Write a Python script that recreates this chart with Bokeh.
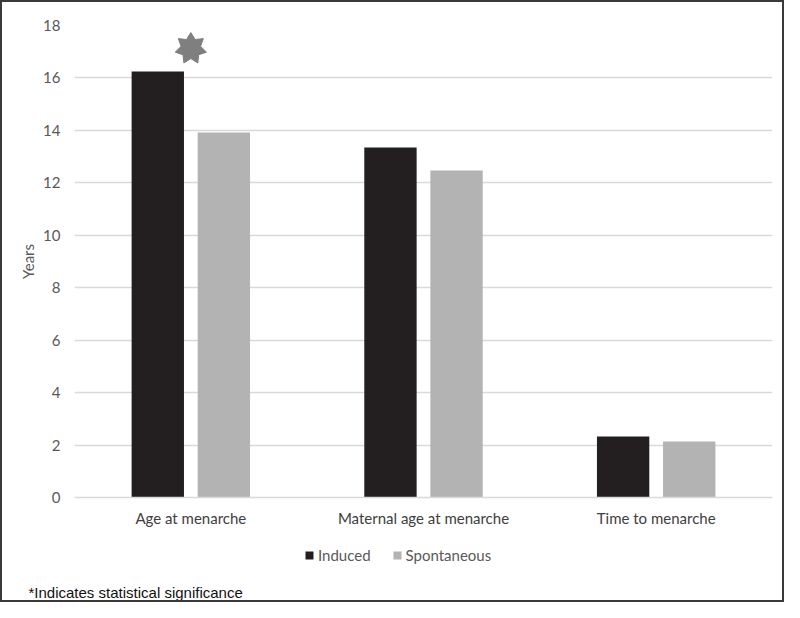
import numpy as np
from bokeh.plotting import figure
from bokeh.layouts import column
from bokeh.models import FactorRange, Range1d, ColumnDataSource, Legend, LegendItem, Label, FixedTicker
from bokeh.transform import dodge
from bokeh.embed import file_html
from bokeh.resources import INLINE

categories = ["Age at menarche", "Maternal age at menarche", "Time to menarche"]
induced = [16.25, 13.35, 2.33]
spontaneous = [13.92, 12.47, 2.14]
series_names = ["Induced", "Spontaneous"]
series_colors = ["#231f20", "#b3b3b3"]
y_ticks = [0, 2, 4, 6, 8, 10, 12, 14, 16, 18]
significant = ["Age at menarche"]
star_y = 17.12
footnote = "*Indicates statistical significance"

W = 780
H1, H2 = 532, 66
ML, MR, MT, MB = 72, 10, 23, 37

p = figure(x_range=FactorRange(factors=categories), y_range=Range1d(0, 18),
           width=W, height=H1, output_backend="svg", toolbar_location=None,
           min_border_left=ML, min_border_right=MR, min_border_top=MT, min_border_bottom=MB)
p.frame_align = False

src = ColumnDataSource(dict(cat=categories, induced=induced, spontaneous=spontaneous))
p.vbar(x=dodge("cat", -0.142, range=p.x_range), top="induced", width=0.225,
       source=src, fill_color=series_colors[0], line_color=None)
p.vbar(x=dodge("cat", 0.142, range=p.x_range), top="spontaneous", width=0.225,
       source=src, fill_color=series_colors[1], line_color=None)

# significance star (7-point) computed around the category center
px_per_x = (W - ML - MR) / len(categories)
px_per_y = (H1 - MT - MB) / 18.0
xs_all, ys_all = [], []
for c in significant:
    cx = categories.index(c) + 0.5
    n = 7
    ang = np.pi / 2 + np.arange(2 * n) * np.pi / n
    rad = np.where(np.arange(2 * n) % 2 == 0, 16.0, 10.0)
    xs_all.append(list(cx + rad * np.cos(ang) / px_per_x))
    ys_all.append(list(star_y + rad * np.sin(ang) / px_per_y))
p.patches(xs=xs_all, ys=ys_all, fill_color="#7f7f7f", line_color="#7f7f7f", line_width=1)

p.outline_line_color = None
p.xgrid.grid_line_color = None
p.ygrid.grid_line_color = "#d9d9d9"
p.ygrid.grid_line_width = 1.3
p.yaxis.ticker = FixedTicker(ticks=y_ticks)
p.yaxis.axis_line_color = None
p.yaxis.major_tick_line_color = None
p.yaxis.major_tick_out = 0
p.yaxis.major_tick_in = 0
p.yaxis.minor_tick_line_color = None
p.yaxis.major_label_text_font = "Lato"
p.yaxis.major_label_text_font_size = "15px"
p.yaxis.major_label_text_color = "#595959"
p.yaxis.major_label_standoff = 14
p.yaxis.axis_label = "Years"
p.yaxis.axis_label_text_font = "Lato"
p.yaxis.axis_label_text_font_size = "15px"
p.yaxis.axis_label_text_font_style = "normal"
p.yaxis.axis_label_text_color = "#595959"
p.yaxis.axis_label_standoff = 3

p.xaxis.axis_line_color = "#d9d9d9"
p.xaxis.axis_line_width = 1.3
p.xaxis.major_tick_line_color = None
p.xaxis.major_tick_out = 0
p.xaxis.major_tick_in = 0
p.xaxis.minor_tick_line_color = None
p.xaxis.major_label_text_font = "Lato"
p.xaxis.major_label_text_font_size = "15px"
p.xaxis.major_label_text_color = "#404040"
p.xaxis.major_label_standoff = 11

# bottom strip: legend + footnote
q = figure(x_range=Range1d(0, 1), y_range=Range1d(0, 1), width=W, height=H2,
           output_backend="svg", toolbar_location=None,
           min_border_left=0, min_border_right=0, min_border_top=0, min_border_bottom=0)
q.frame_align = False
q.axis.visible = False
q.grid.visible = False
q.outline_line_color = None
lr = []
for c in series_colors:
    # legend proxy renderer, placed outside the visible range of this strip
    lr.append(q.vbar(x=[-10], top=[0], width=0.1, fill_color=c, line_color=None))
legend = Legend(items=[LegendItem(label=series_names[i], renderers=[lr[i]]) for i in range(2)],
                orientation="horizontal", location=(302, 36),
                label_text_font="Lato", label_text_font_size="15px", label_text_color="#595959",
                glyph_width=10, glyph_height=10, label_standoff=4, spacing=21,
                border_line_color=None, background_fill_alpha=0, margin=0, padding=4)
q.add_layout(legend, "center")
q.add_layout(Label(x=26, y=8, x_units="screen", y_units="screen", text=footnote,
                   text_baseline="middle", text_font="Liberation Sans",
                   text_font_size="15px", text_color="#111111"))

layout = column(p, q, spacing=0)
layout.styles = {"border": "2px solid #3a3a3a"}

open("out.html", "w").write(file_html(layout, INLINE))
